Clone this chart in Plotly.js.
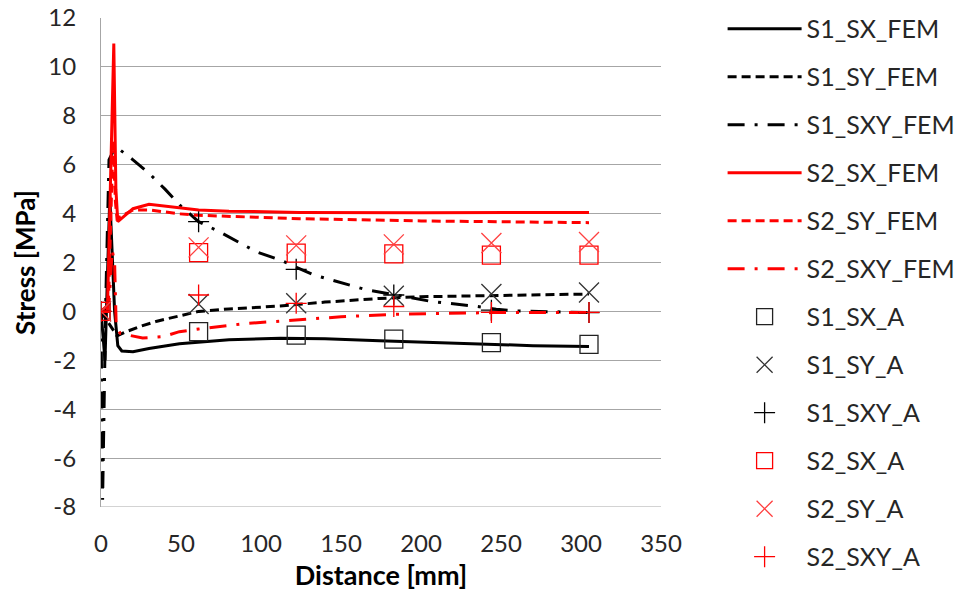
<!DOCTYPE html>
<html>
<head>
<meta charset="utf-8">
<script src="https://cdn.plot.ly/plotly-3.0.1.min.js"></script>
<style>html,body{margin:0;padding:0;background:#fff;}#chart{width:973px;height:593px;}</style>
</head>
<body>
<div id="chart"></div>
<script>
// FEM curves (distance mm, stress MPa)
const s1_sx_fem_x = [0, 2.5, 5.5, 8.5, 10.5, 13, 20, 30, 49, 61, 80, 112, 140, 174, 200, 237, 270, 305];
const s1_sx_fem_y = [0, -2.0, 4.7, 0, -1.4, -1.62, -1.65, -1.52, -1.32, -1.25, -1.16, -1.1, -1.12, -1.2, -1.25, -1.35, -1.4, -1.44];

const s1_sy_fem_x = [0, 4, 8, 10, 15, 25, 35, 49, 61, 80, 112, 140, 174, 200, 237, 270, 305];
const s1_sy_fem_y = [0, -0.4, -0.8, -1.0, -0.85, -0.6, -0.4, -0.2, 0.0, 0.1, 0.22, 0.38, 0.53, 0.6, 0.64, 0.68, 0.71];

const s1_sxy_fem_x = [0, 1, 3, 5, 8, 11, 20, 30, 40, 50, 61, 74, 97, 112, 133, 151, 166, 191, 207, 233, 247, 260, 274, 289, 305];
const s1_sxy_fem_y = [0, -7.7, 0.5, 6.2, 6.6, 6.65, 6.2, 5.65, 5.0, 4.3, 3.67, 3.26, 2.44, 2.1, 1.49, 1.16, 0.88, 0.6, 0.4, 0.22, 0.09, 0.02, 0, -0.04, -0.05];

const s2_sx_fem_x = [0, 4, 8, 9.3, 10.5, 13, 20, 30, 40, 49, 61, 80, 124, 200, 305];
const s2_sx_fem_y = [0, 0, 10.96, 5, 3.67, 3.8, 4.2, 4.38, 4.3, 4.23, 4.15, 4.1, 4.05, 4.03, 4.05];

const s2_sy_fem_x = [0, 4.5, 7.5, 9, 10, 13, 20, 30, 49, 61, 124, 200, 305];
const s2_sy_fem_y = [0, 0, 7, 4.5, 3.8, 3.9, 4.15, 4.15, 3.99, 3.93, 3.79, 3.7, 3.63];

const s2_sxy_fem_x = [0, 5, 7, 8.5, 9.5, 12, 26, 39, 49, 61, 90, 120, 150, 183, 244, 305];
const s2_sxy_fem_y = [0, 0.3, 2.5, 2, -0.6, -0.9, -1.09, -1.03, -0.83, -0.72, -0.5, -0.35, -0.22, -0.12, -0.05, -0.05];

// Analytical points
const a_x = [0, 61, 122, 183, 244, 305];
const s1_sx_a = [0, -0.83, -0.97, -1.13, -1.28, -1.35];
const s1_sy_a = [0, 0.3, 0.33, 0.64, 0.71, 0.77];
const s1_sxy_a = [0, 3.67, 1.72, 0.67, 0.05, -0.05];
const s2_sx_a = [0, 2.4, 2.38, 2.35, 2.3, 2.3];
const s2_sy_a = [0, 2.62, 2.7, 2.74, 2.8, 2.84];
const s2_sxy_a = [0, 0.67, 0.33, 0.2, -0.04, -0.04];

const xTicks = [0, 50, 100, 150, 200, 250, 300, 350];
const yTicks = [-8, -6, -4, -2, 0, 2, 4, 6, 8, 10, 12];

const RED = '#ff0000', BLK = '#000000';
const DASH = '9px,5px';
const DASHDOT = '17px,10px,3px,10px';

function lineTrace(name, x, y, color, dash, g) {
  return {type: 'scatter', mode: 'lines', name: name, x: x, y: y, legendgroup: g,
    line: {color: color, width: 3, dash: dash}};
}
function markTrace(name, x, y, color, symbol, size, g) {
  return {type: 'scatter', mode: 'markers', name: name, x: x, y: y, legendgroup: g,
    marker: {symbol: symbol, size: size, color: color, line: {color: color, width: 1.3}}};
}

const traces = [
  lineTrace('S1_SX_FEM', s1_sx_fem_x, s1_sx_fem_y, BLK, 'solid', 'a'),
  lineTrace('S1_SY_FEM', s1_sy_fem_x, s1_sy_fem_y, BLK, DASH, 'b'),
  lineTrace('S1_SXY_FEM', s1_sxy_fem_x, s1_sxy_fem_y, BLK, DASHDOT, 'c'),
  lineTrace('S2_SX_FEM', s2_sx_fem_x, s2_sx_fem_y, RED, 'solid', 'd'),
  lineTrace('S2_SY_FEM', s2_sy_fem_x, s2_sy_fem_y, RED, DASH, 'e'),
  lineTrace('S2_SXY_FEM', s2_sxy_fem_x, s2_sxy_fem_y, RED, DASHDOT, 'f'),
  markTrace('S1_SX_A', a_x, s1_sx_a, '#222222', 'square-open', 18, 'g'),
  markTrace('S1_SY_A', a_x, s1_sy_a, '#333333', 'x-thin-open', 20, 'h'),
  markTrace('S1_SXY_A', a_x, s1_sxy_a, BLK, 'cross-thin-open', 15, 'i'),
  markTrace('S2_SX_A', a_x, s2_sx_a, RED, 'square-open', 18, 'j'),
  markTrace('S2_SY_A', a_x, s2_sy_a, '#ff4040', 'x-thin-open', 20, 'k'),
  markTrace('S2_SXY_A', a_x, s2_sxy_a, RED, 'cross-thin-open', 15, 'l')
];

const FONT = 'Lato, "Liberation Sans", sans-serif';
const TXT = '#262626';
const layout = {
  width: 973, height: 593,
  margin: {l: 101, r: 312, t: 18, b: 86, autoexpand: false},
  paper_bgcolor: '#ffffff', plot_bgcolor: '#ffffff',
  font: {family: FONT, size: 24, color: TXT},
  showlegend: true,
  legend: {x: 1.11, xanchor: 'left', y: 1.0246, yanchor: 'top',
    font: {family: FONT, size: 25, color: TXT},
    itemwidth: 74, tracegroupgap: 12.5, traceorder: 'grouped',
    maxheight: 593,
    bgcolor: 'rgba(0,0,0,0)'},
  xaxis: {range: [0, 350], tickvals: xTicks, ticktext: xTicks.map(String),
    showgrid: false, zeroline: false, showline: false, ticks: '',
    ticklabelstandoff: 20, automargin: false,
    tickfont: {family: FONT, size: 24, color: TXT},
    title: {text: '<b>Distance [mm]</b>', font: {family: FONT, size: 27, color: '#000000'}, standoff: 10}},
  yaxis: {range: [-8, 12], tickvals: yTicks, ticktext: yTicks.map(String),
    showgrid: true, gridcolor: '#a6a6a6', gridwidth: 1, zeroline: false,
    showline: true, linecolor: '#a6a6a6', linewidth: 1, ticks: '',
    ticklabelstandoff: 19, automargin: false,
    tickfont: {family: FONT, size: 24, color: TXT},
    title: {text: '<b>Stress [MPa]</b>', font: {family: FONT, size: 26, color: '#000000'}, standoff: 5}},
  shapes: [{type: 'line', xref: 'paper', yref: 'y', x0: 0, x1: 1, y0: -8, y1: -8,
    line: {color: '#a6a6a6', width: 1}, layer: 'below'}]
};

Plotly.newPlot('chart', traces, layout, {displayModeBar: false, staticPlot: true});
</script>
</body>
</html>
